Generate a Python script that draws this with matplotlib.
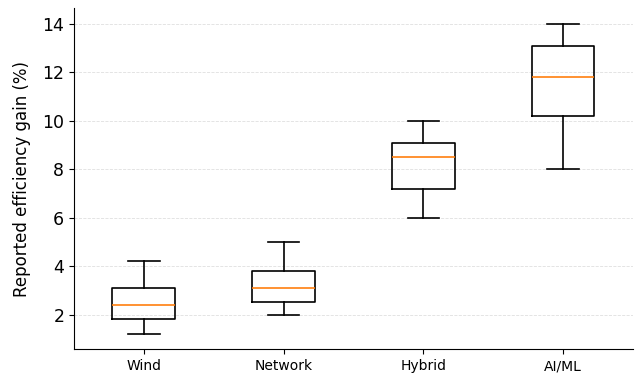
import matplotlib
matplotlib.use("Agg")
import matplotlib.pyplot as plt

# Summary statistics per approach (whisker low, Q1, median, Q3, whisker high)
categories = ["Wind", "Network", "Hybrid", "AI/ML"]
whisker_low = [1.2, 2.0, 6.0, 8.0]
q1 = [1.8, 2.5, 7.2, 10.2]
median = [2.4, 3.1, 8.5, 11.8]
q3 = [3.1, 3.8, 9.1, 13.1]
whisker_high = [4.2, 5.0, 10.0, 14.0]

stats = []
for i, name in enumerate(categories):
    stats.append({
        "label": name,
        "whislo": whisker_low[i],
        "q1": q1[i],
        "med": median[i],
        "q3": q3[i],
        "whishi": whisker_high[i],
        "fliers": [],
    })

fig, ax = plt.subplots(figsize=(6.38, 3.79), dpi=100)
ax.bxp(stats, widths=0.45, showfliers=False,
       boxprops=dict(linewidth=1.2),
       whiskerprops=dict(linewidth=1.2),
       capprops=dict(linewidth=1.2),
       medianprops=dict(color="#ff7f0e", linewidth=1.2))

ax.set_ylabel("Reported efficiency gain (%)", fontsize=12, labelpad=8)
ax.tick_params(axis="y", labelsize=12.5)
ax.tick_params(axis="x", labelsize=10)
ax.yaxis.grid(True, linestyle="--", linewidth=0.6, alpha=0.4)
ax.set_axisbelow(True)
ax.spines["top"].set_visible(False)
ax.spines["right"].set_visible(False)

fig.subplots_adjust(left=0.116, right=0.992, bottom=0.078, top=0.978)
fig.savefig("out.png", dpi=100)
